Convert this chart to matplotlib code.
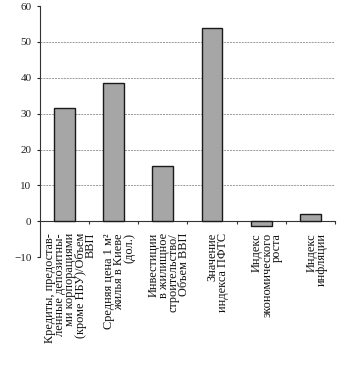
import matplotlib
matplotlib.use("Agg")
import matplotlib.pyplot as plt

plt.rcParams["font.family"] = ["Liberation Serif", "DejaVu Serif"]

# Indicator names (labels under the bars) and their values
labels = [
    "Кредиты, предостав-\nленные депозитны-\nми корпорациями\n(кроме НБУ)/Объем\nВВП",
    "Средняя цена 1 м²\nжилья в Киеве\n(дол.)",
    "Инвестиции\nв жилищное\nстроительство/\nОбъем ВВП",
    "Значение\nиндекса ПФТС",
    "Индекс\nэкономического\nроста",
    "Индекс\nинфляции",
]
values = [31.7, 38.5, 15.5, 54.0, -1.3, 2.0]
yticks = [-10, 0, 10, 20, 30, 40, 50, 60]

fig = plt.figure(figsize=(3.59, 3.77), dpi=100)
ax = fig.add_axes([0.111, 0.318, 0.822, 0.666])

x = list(range(len(values)))
ax.bar(x, values, width=0.42, color="#a6a6a6", edgecolor="#1a1a1a",
       linewidth=1.0, zorder=3)

# horizontal grid (no line at the top value)
for v in yticks:
    if 0 < v < 60:
        ax.axhline(v, color="#9a9a9a", linewidth=0.7,
                   linestyle=(0, (2, 1)), zorder=1)

ax.set_xlim(-0.5, len(values) - 0.5)
ax.set_ylim(-10, 60)
ax.set_yticks(yticks)
ax.tick_params(axis="y", length=2, pad=4, labelsize=8, colors="#222222")

# x axis line sits at zero, small ticks between categories
ax.spines["top"].set_visible(False)
ax.spines["right"].set_visible(False)
ax.spines["bottom"].set_position(("data", 0))
ax.spines["bottom"].set_color("#333333")
ax.spines["left"].set_color("#333333")
ax.set_xticks([i + 0.5 for i in x])
ax.set_xticklabels([])
ax.tick_params(axis="x", length=2, direction="out", colors="#333333")

for i, lab in zip(x, labels):
    ax.text(i + 0.12, -3.3, lab, rotation=90, ha="center", va="top",
            multialignment="right", fontsize=8.9, linespacing=0.8,
            color="#111111")

fig.savefig("out.png", dpi=100)
